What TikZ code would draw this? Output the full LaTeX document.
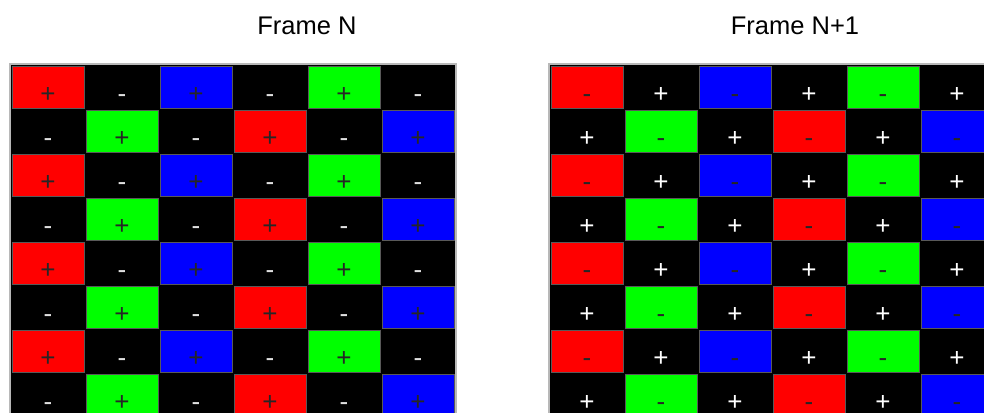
\documentclass[tikz,border=0pt]{standalone}
\usepackage{fontspec}
\setmainfont{Liberation Sans}

\tikzset{
  gridback/.style={fill=black, draw=black!28, line width=1.2pt},
  pixcell/.style={draw=black!65, line width=0.7pt},
  signmark/.style={anchor=base, inner sep=0pt, font=\fontsize{26}{26}\selectfont},
  darksign/.style={signmark, text=black!85},
  lightsign/.style={signmark, text=black!12},
  whitesign/.style={signmark, text=white},
  framelabel/.style={anchor=base, inner sep=0pt, font=\fontsize{25.5}{25.5}\selectfont},
}

% one frame: #1 = left edge, #2 = name prefix, #3/#4 = sign and style on coloured cells,
% #5/#6 = sign and style on black cells
\newcommand{\pixelframe}[6]{%
  \draw[gridback] (#1-1,64) rectangle (#1+444+1,420);
  \foreach \r in {0,...,7}{
    \pgfmathtruncatemacro{\odd}{mod(\r,2)}
    \ifnum\odd=0
      \def\colcells{0/red,2/blue,4/green}\def\blackcells{1,3,5}
    \else
      \def\colcells{1/green,3/red,5/blue}\def\blackcells{0,2,4}
    \fi
    \foreach \c/\col in \colcells{
      \fill[\col] (#1+\c*74+1,65+\r*44+1) rectangle (#1+\c*74+73,65+\r*44+43);
      \draw[pixcell] (#1+\c*74+1,65+\r*44+1) rectangle (#1+\c*74+73,65+\r*44+43);
      \node[#4] (#2-\r-\c) at (#1+\c*74+37,65+\r*44+37) {#3};
    }
    \foreach \c in \blackcells{
      \node[#6] (#2-\r-\c) at (#1+\c*74+37,65+\r*44+37) {#5};
    }
  }
}

\begin{document}
\begin{tikzpicture}[x=1pt, y=-1pt]
  \useasboundingbox (0,0) rectangle (984,412);
  \clip (0,0) rectangle (984,412);

  % titles
  \node[framelabel] (titleN) at (307,35) {Frame N};
  \node[framelabel] (titleNext) at (795,35) {Frame N+1};

  % frame N: colour cells +, black cells -
  \pixelframe{11}{fn}{+}{darksign}{-}{lightsign}

  % frame N+1: polarity flipped
  \pixelframe{550}{fm}{-}{darksign}{+}{whitesign}
\end{tikzpicture}
\end{document}
